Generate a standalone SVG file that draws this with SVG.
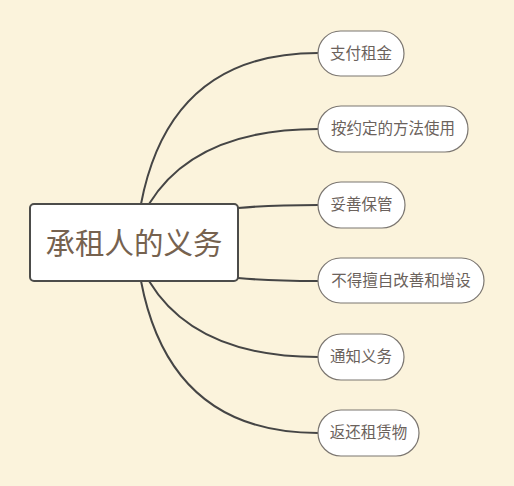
<svg xmlns="http://www.w3.org/2000/svg" width="514" height="486" viewBox="0 0 514 486">
<defs>
<style>
.conn{fill:none;stroke:#454545;stroke-width:2;stroke-linecap:round}
.child rect{fill:#ffffff;stroke:#7b7671;stroke-width:1.2}
.child text{font-family:"Noto Sans CJK SC","Noto Sans",sans-serif;font-size:15.5px;fill:#6b625c;text-anchor:middle}
.root rect{fill:#ffffff;stroke:#4c4c4a;stroke-width:2}
.root text{font-family:"Noto Sans CJK SC","Noto Sans",sans-serif;font-size:29.5px;fill:#76624f;text-anchor:middle}
</style>
</defs>
<rect width="514" height="486" fill="#fbf3dc"/>
<g id="connectors">
<path class="conn" d="M141,204 Q170,53 318,53"/>
<path class="conn" d="M149,204 Q195,129 318,129"/>
<path class="conn" d="M238,208 Q270,205 318,205"/>
<path class="conn" d="M238,278 Q270,281 318,281"/>
<path class="conn" d="M149,281 Q195,357 318,357"/>
<path class="conn" d="M141,281 Q170,433 318,433"/>
</g>
<g id="root" class="root">
<rect x="30" y="204" width="208" height="77" rx="4"/>
<text x="134" y="253.5">承租人的义务</text>
</g>
<g id="n1" class="child">
<rect x="318" y="31" width="86" height="45" rx="22.5"/>
<text x="361" y="58.5">支付租金</text>
</g>
<g id="n2" class="child">
<rect x="318" y="106" width="150" height="46" rx="23"/>
<text x="393" y="134">按约定的方法使用</text>
</g>
<g id="n3" class="child">
<rect x="318" y="182" width="87" height="46" rx="23"/>
<text x="361.5" y="210">妥善保管</text>
</g>
<g id="n4" class="child">
<rect x="318" y="258" width="166" height="45" rx="22.5"/>
<text x="401" y="285.5">不得擅自改善和增设</text>
</g>
<g id="n5" class="child">
<rect x="318" y="334" width="86" height="46" rx="23"/>
<text x="361" y="362">通知义务</text>
</g>
<g id="n6" class="child">
<rect x="318" y="410" width="101" height="46" rx="23"/>
<text x="368.5" y="438">返还租赁物</text>
</g>
</svg>
